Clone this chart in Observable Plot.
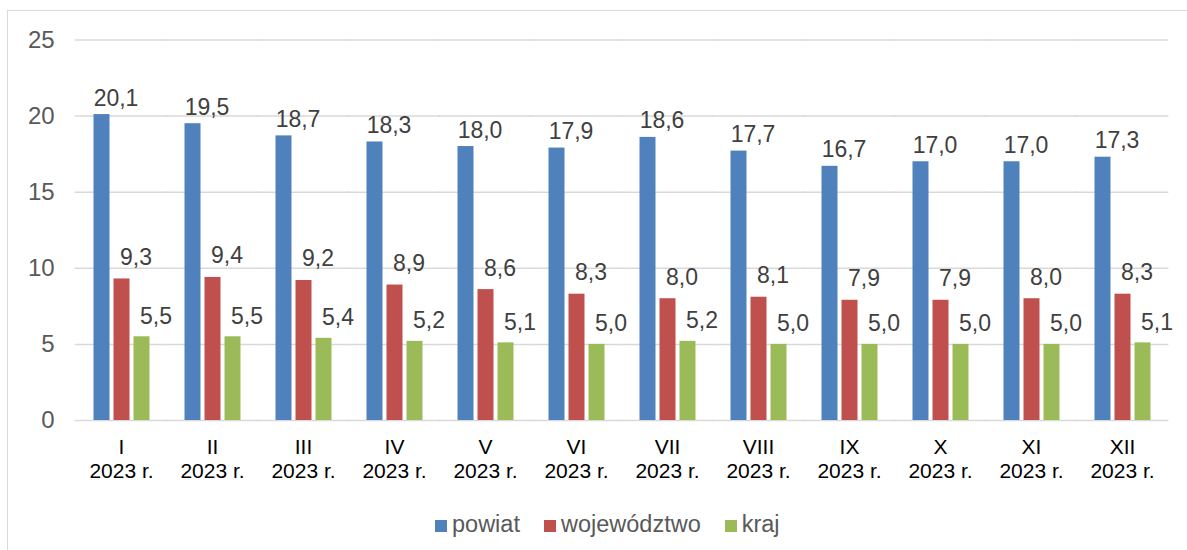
<!DOCTYPE html>
<html>
<head>
<meta charset="utf-8">
<script src="https://cdn.jsdelivr.net/npm/d3@7"></script>
<script src="https://cdn.jsdelivr.net/npm/@observablehq/plot@0.6"></script>
<style>
  html, body { margin: 0; padding: 0; background: #fff; }
  body { width: 1187px; height: 550px; overflow: hidden; position: relative; font-family: "Liberation Sans", Arial, sans-serif; }
  #frame { position: absolute; left: 7px; top: 10px; width: 1200px; height: 560px; border-left: 1.5px solid #d9d9d9; border-top: 1.5px solid #d9d9d9; }
  #chart { position: absolute; left: 0px; top: 0px; }
  #legend { position: absolute; left: 427px; top: 500px; display: flex; align-items: center; color: #595959; font-size: 23.5px; }
  .item { display: flex; align-items: center; margin-right: 24px; }
  .sw { width: 12px; height: 12px; margin-right: 5px; margin-top: 3px; }
</style>
</head>
<body>
<div id="frame"><div id="chart"></div><div id="legend"></div></div>
<script>
const months = ["I", "II", "III", "IV", "V", "VI", "VII", "VIII", "IX", "X", "XI", "XII"];
const yearLabel = "2023 r.";
const seriesNames = ["powiat", "województwo", "kraj"];
const powiat = [20.1, 19.5, 18.7, 18.3, 18.0, 17.9, 18.6, 17.7, 16.7, 17.0, 17.0, 17.3];
const wojewodztwo = [9.3, 9.4, 9.2, 8.9, 8.6, 8.3, 8.0, 8.1, 7.9, 7.9, 8.0, 8.3];
const kraj = [5.5, 5.5, 5.4, 5.2, 5.1, 5.0, 5.2, 5.0, 5.0, 5.0, 5.0, 5.1];
const yTicks = [0, 5, 10, 15, 20, 25];
const colors = ["#4F81BD", "#C0504D", "#9BBB59"];

const seriesValues = [powiat, wojewodztwo, kraj];
const data = months.flatMap((m, i) =>
  seriesNames.map((s, j) => ({month: m, series: s, value: seriesValues[j][i]}))
);
const fmt = v => v.toFixed(1).replace(".", ",");

// label styling per series (vertical gap above the bar)
const labelDy = [-9, -14, -13];

const W = 1179, ML = 63.5, MR = 15;
const fxPadInner = 0.389, fxPadOuter = 0.1945;
const step = (W - ML - MR) / months.length;
// half of the gap between facet bands, so grid rules run continuously
const gridExtend = step * fxPadInner / 2 + 0.5;
// the y axis is drawn at the first facet's left edge
const yTickPadding = 21 + step * fxPadOuter;

const labelMarks = seriesNames.map((s, j) =>
  Plot.text(data.filter(d => d.series === s), {fx: "month", x: "series", y: "value", text: d => fmt(d.value),
    lineAnchor: "bottom", dy: labelDy[j], dx: 14, fontSize: 23, fill: "#404040"})
);

const chart = Plot.plot({
  width: W,
  height: 490,
  marginLeft: ML,
  marginRight: MR,
  marginTop: 28.5,
  marginBottom: 81,
  style: {fontFamily: "'Liberation Sans', Arial, sans-serif", background: "transparent"},
  fx: {domain: months, paddingInner: fxPadInner, paddingOuter: fxPadOuter, label: null, axis: null},
  x: {domain: seriesNames, paddingInner: 0.2, paddingOuter: 0, axis: null},
  y: {domain: [0, 25], axis: null},
  color: {domain: seriesNames, range: colors},
  marks: [
    Plot.ruleY(yTicks, {stroke: "#d9d9d9", strokeWidth: 1.5, insetLeft: -gridExtend, insetRight: -gridExtend}),
    Plot.axisY(yTicks, {tickSize: 0, tickPadding: yTickPadding, fontSize: 24, color: "#595959", label: null}),
    Plot.axisFx({anchor: "bottom", tickSize: 0, tickPadding: 16, fontSize: 21, lineHeight: 1.15, color: "#000", label: null,
      tickFormat: m => m + "\n" + yearLabel}),
    Plot.barY(data, {fx: "month", x: "series", y: "value", fill: "series"}),
    ...labelMarks
  ]
});
document.getElementById("chart").appendChild(chart);

const legend = document.getElementById("legend");
seriesNames.forEach((s, i) => {
  const it = document.createElement("div");
  it.className = "item";
  const sw = document.createElement("span");
  sw.className = "sw";
  sw.style.background = colors[i];
  const t = document.createElement("span");
  t.textContent = s;
  it.appendChild(sw);
  it.appendChild(t);
  legend.appendChild(it);
});
</script>
</body>
</html>
